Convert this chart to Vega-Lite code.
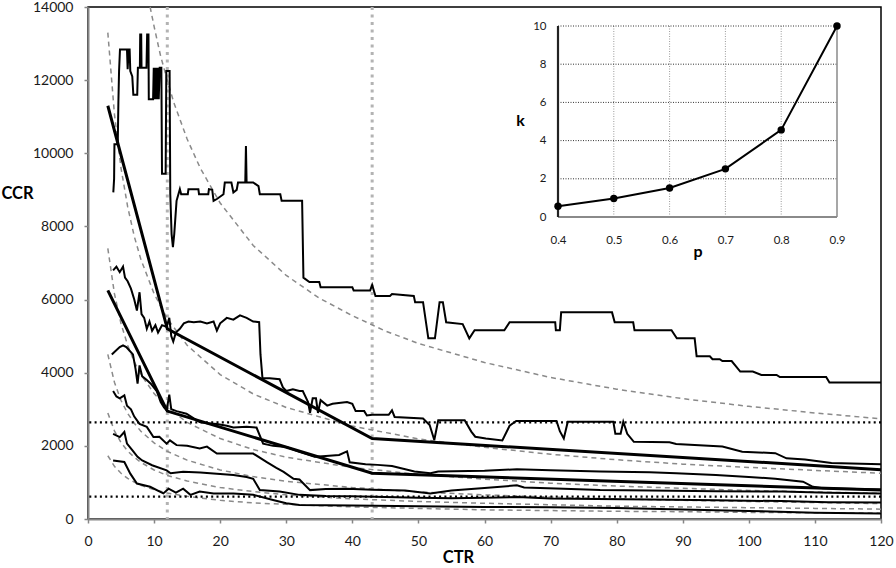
{
  "$schema": "https://vega.github.io/schema/vega-lite/v6.json",
  "width": 793,
  "height": 512,
  "autosize": {"type": "none"},
  "padding": {"left": 88, "top": 7, "right": 15, "bottom": 49},
  "background": "white",
  "config": {
    "font": "Lato",
    "view": {"stroke": "black", "strokeWidth": 1.5},
    "axis": {"labelFont": "Lato", "titleFont": "Lato", "labelColor": "#1a1a1a", "titleColor": "#000000", "grid": false}
  },
  "datasets": {
    "series": [
      {"s":"A","x":3.83,"y":8930},{"s":"A","x":3.95,"y":9300},{"s":"A","x":4.0,"y":10250},{"s":"A","x":4.5,"y":10250},{"s":"A","x":4.6,"y":11400},{"s":"A","x":4.7,"y":12250},{"s":"A","x":4.84,"y":12840},{"s":"A","x":5.9,"y":12840},{"s":"A","x":6.0,"y":12300},{"s":"A","x":6.15,"y":12840},{"s":"A","x":6.3,"y":12840},{"s":"A","x":6.4,"y":12250},{"s":"A","x":6.7,"y":12100},{"s":"A","x":6.86,"y":11600},{"s":"A","x":7.45,"y":11600},{"s":"A","x":7.55,"y":12340},{"s":"A","x":7.85,"y":12340},{"s":"A","x":7.9,"y":13250},{"s":"A","x":8.05,"y":13250},{"s":"A","x":8.1,"y":12340},{"s":"A","x":8.85,"y":12340},{"s":"A","x":8.95,"y":13250},{"s":"A","x":9.15,"y":13250},{"s":"A","x":9.2,"y":11480},{"s":"A","x":9.85,"y":11480},{"s":"A","x":9.95,"y":12340},{"s":"A","x":10.1,"y":11480},{"s":"A","x":10.25,"y":12340},{"s":"A","x":10.4,"y":11480},{"s":"A","x":10.55,"y":12340},{"s":"A","x":10.7,"y":11480},{"s":"A","x":10.85,"y":12340},{"s":"A","x":11.1,"y":12340},{"s":"A","x":11.2,"y":9440},{"s":"A","x":11.75,"y":9440},{"s":"A","x":11.85,"y":12250},{"s":"A","x":12.35,"y":12250},{"s":"A","x":12.45,"y":8880},{"s":"A","x":12.65,"y":7790},{"s":"A","x":12.85,"y":7430},{"s":"A","x":13.05,"y":7790},{"s":"A","x":13.4,"y":8700},{"s":"A","x":13.9,"y":9020},{"s":"A","x":14.1,"y":8880},{"s":"A","x":15.1,"y":8880},{"s":"A","x":15.2,"y":9020},{"s":"A","x":16.7,"y":9020},{"s":"A","x":16.8,"y":8880},{"s":"A","x":18.2,"y":8880},{"s":"A","x":18.3,"y":9020},{"s":"A","x":18.8,"y":9000},{"s":"A","x":19.0,"y":8700},{"s":"A","x":19.5,"y":8750},{"s":"A","x":20.5,"y":8880},{"s":"A","x":20.7,"y":9200},{"s":"A","x":21.7,"y":9200},{"s":"A","x":22.0,"y":8930},{"s":"A","x":22.5,"y":9000},{"s":"A","x":22.7,"y":9200},{"s":"A","x":23.8,"y":9200},{"s":"A","x":23.9,"y":10200},{"s":"A","x":24.0,"y":9200},{"s":"A","x":25.0,"y":9200},{"s":"A","x":25.8,"y":9100},{"s":"A","x":26.0,"y":8880},{"s":"A","x":29.1,"y":8880},{"s":"A","x":29.3,"y":8700},{"s":"A","x":32.4,"y":8700},{"s":"A","x":32.6,"y":6600},{"s":"A","x":33.5,"y":6480},{"s":"A","x":35.0,"y":6480},{"s":"A","x":35.2,"y":6340},{"s":"A","x":40.0,"y":6340},{"s":"A","x":40.2,"y":6250},{"s":"A","x":42.7,"y":6250},{"s":"A","x":43.0,"y":6400},{"s":"A","x":43.5,"y":6100},{"s":"A","x":45.7,"y":6100},{"s":"A","x":46.0,"y":6150},{"s":"A","x":49.3,"y":6100},{"s":"A","x":49.5,"y":5930},{"s":"A","x":50.7,"y":5930},{"s":"A","x":51.5,"y":4940},{"s":"A","x":52.5,"y":4940},{"s":"A","x":53.2,"y":5930},{"s":"A","x":53.7,"y":5930},{"s":"A","x":54.2,"y":5380},{"s":"A","x":56.7,"y":5330},{"s":"A","x":57.7,"y":4940},{"s":"A","x":58.5,"y":5160},{"s":"A","x":63.0,"y":5160},{"s":"A","x":63.8,"y":5380},{"s":"A","x":70.7,"y":5380},{"s":"A","x":70.8,"y":5160},{"s":"A","x":71.4,"y":5160},{"s":"A","x":71.6,"y":5650},{"s":"A","x":79.3,"y":5650},{"s":"A","x":79.7,"y":5380},{"s":"A","x":82.5,"y":5380},{"s":"A","x":82.7,"y":5160},{"s":"A","x":88.3,"y":5160},{"s":"A","x":89.1,"y":4940},{"s":"A","x":91.8,"y":4940},{"s":"A","x":92.1,"y":4450},{"s":"A","x":94.1,"y":4450},{"s":"A","x":94.5,"y":4370},{"s":"A","x":95.6,"y":4370},{"s":"A","x":96.0,"y":4320},{"s":"A","x":97.4,"y":4320},{"s":"A","x":98.7,"y":4030},{"s":"A","x":100.6,"y":4030},{"s":"A","x":101.9,"y":3940},{"s":"A","x":104.2,"y":3940},{"s":"A","x":104.7,"y":3880},{"s":"A","x":111.7,"y":3880},{"s":"A","x":112.2,"y":3730},{"s":"A","x":120,"y":3730},

      {"s":"B","x":3.8,"y":6800},{"s":"B","x":4.3,"y":6900},{"s":"B","x":4.8,"y":6750},{"s":"B","x":5.3,"y":6900},{"s":"B","x":5.6,"y":6600},{"s":"B","x":6.0,"y":6500},{"s":"B","x":6.5,"y":6300},{"s":"B","x":7.0,"y":6000},{"s":"B","x":7.4,"y":5700},{"s":"B","x":7.8,"y":6200},{"s":"B","x":8.1,"y":5600},{"s":"B","x":8.5,"y":5500},{"s":"B","x":8.9,"y":5200},{"s":"B","x":9.3,"y":5400},{"s":"B","x":9.7,"y":5150},{"s":"B","x":10.2,"y":5300},{"s":"B","x":10.6,"y":5100},{"s":"B","x":11.2,"y":5300},{"s":"B","x":11.9,"y":5250},{"s":"B","x":12.3,"y":5500},{"s":"B","x":12.6,"y":5000},{"s":"B","x":12.9,"y":4850},{"s":"B","x":13.3,"y":5100},{"s":"B","x":13.9,"y":5200},{"s":"B","x":14.5,"y":5350},{"s":"B","x":15.2,"y":5400},{"s":"B","x":16,"y":5380},{"s":"B","x":17,"y":5400},{"s":"B","x":18,"y":5350},{"s":"B","x":19,"y":5400},{"s":"B","x":19.5,"y":5150},{"s":"B","x":20,"y":5350},{"s":"B","x":21,"y":5500},{"s":"B","x":22,"y":5450},{"s":"B","x":23,"y":5570},{"s":"B","x":24,"y":5500},{"s":"B","x":25,"y":5400},{"s":"B","x":25.9,"y":5380},{"s":"B","x":26.1,"y":4500},{"s":"B","x":26.4,"y":3850},{"s":"B","x":27.5,"y":3850},{"s":"B","x":29,"y":3820},{"s":"B","x":29.5,"y":3600},{"s":"B","x":30,"y":3500},{"s":"B","x":31,"y":3550},{"s":"B","x":32,"y":3500},{"s":"B","x":32.5,"y":3500},{"s":"B","x":33.3,"y":3200},{"s":"B","x":33.6,"y":2900},{"s":"B","x":34,"y":3300},{"s":"B","x":34.5,"y":3300},{"s":"B","x":34.8,"y":2900},{"s":"B","x":35.2,"y":3250},{"s":"B","x":36.2,"y":3100},{"s":"B","x":37,"y":3150},{"s":"B","x":39.2,"y":3200},{"s":"B","x":40,"y":3150},{"s":"B","x":40.5,"y":2950},{"s":"B","x":41.8,"y":2950},{"s":"B","x":42.2,"y":2830},{"s":"B","x":43,"y":2850},{"s":"B","x":45.5,"y":2850},{"s":"B","x":46,"y":2970},{"s":"B","x":46.4,"y":2790},{"s":"B","x":50.7,"y":2750},{"s":"B","x":51.7,"y":2570},{"s":"B","x":52.4,"y":2160},{"s":"B","x":53,"y":2700},{"s":"B","x":57,"y":2700},{"s":"B","x":58,"y":2390},{"s":"B","x":58.6,"y":2250},{"s":"B","x":60.2,"y":2200},{"s":"B","x":62.7,"y":2150},{"s":"B","x":63.8,"y":2550},{"s":"B","x":64.8,"y":2680},{"s":"B","x":70.9,"y":2680},{"s":"B","x":71.4,"y":2400},{"s":"B","x":72,"y":2200},{"s":"B","x":72.6,"y":2660},{"s":"B","x":79.5,"y":2660},{"s":"B","x":79.8,"y":2330},{"s":"B","x":80.6,"y":2330},{"s":"B","x":81,"y":2660},{"s":"B","x":81.6,"y":2330},{"s":"B","x":82.6,"y":2110},{"s":"B","x":88,"y":2100},{"s":"B","x":89,"y":2050},{"s":"B","x":96,"y":1980},{"s":"B","x":99,"y":1840},{"s":"B","x":104,"y":1800},{"s":"B","x":105.7,"y":1660},{"s":"B","x":108.5,"y":1630},{"s":"B","x":112.5,"y":1530},{"s":"B","x":120,"y":1500},

      {"s":"C","x":3.6,"y":4500},{"s":"C","x":4.2,"y":4600},{"s":"C","x":4.8,"y":4700},{"s":"C","x":5.3,"y":4750},{"s":"C","x":5.8,"y":4700},{"s":"C","x":6.3,"y":4600},{"s":"C","x":6.8,"y":4500},{"s":"C","x":7.2,"y":4100},{"s":"C","x":7.5,"y":3700},{"s":"C","x":7.8,"y":4200},{"s":"C","x":8.2,"y":3900},{"s":"C","x":8.9,"y":3800},{"s":"C","x":9.5,"y":3700},{"s":"C","x":10.4,"y":3500},{"s":"C","x":11,"y":3200},{"s":"C","x":11.5,"y":3050},{"s":"C","x":11.9,"y":2970},{"s":"C","x":12.3,"y":3400},{"s":"C","x":12.6,"y":3000},{"s":"C","x":13.4,"y":2950},{"s":"C","x":14.9,"y":2880},{"s":"C","x":16,"y":2750},{"s":"C","x":16.9,"y":2650},{"s":"C","x":18,"y":2620},{"s":"C","x":19.5,"y":2600},{"s":"C","x":21,"y":2550},{"s":"C","x":22,"y":2500},{"s":"C","x":24,"y":2520},{"s":"C","x":25.5,"y":2500},{"s":"C","x":26.5,"y":2060},{"s":"C","x":28,"y":2000},{"s":"C","x":30,"y":1970},{"s":"C","x":32,"y":1840},{"s":"C","x":34.3,"y":1700},{"s":"C","x":36,"y":1720},{"s":"C","x":38,"y":1750},{"s":"C","x":39.2,"y":1850},{"s":"C","x":39.6,"y":1550},{"s":"C","x":42,"y":1500},{"s":"C","x":43.8,"y":1480},{"s":"C","x":46,"y":1450},{"s":"C","x":49.4,"y":1300},{"s":"C","x":51.8,"y":1250},{"s":"C","x":53,"y":1300},{"s":"C","x":60,"y":1320},{"s":"C","x":64.9,"y":1360},{"s":"C","x":70,"y":1330},{"s":"C","x":77.5,"y":1300},{"s":"C","x":85,"y":1280},{"s":"C","x":89,"y":1250},{"s":"C","x":95,"y":1200},{"s":"C","x":100,"y":1150},{"s":"C","x":104,"y":1100},{"s":"C","x":108.2,"y":1020},{"s":"C","x":109.7,"y":880},{"s":"C","x":111.2,"y":840},{"s":"C","x":120,"y":810},

      {"s":"D","x":3.8,"y":3500},{"s":"D","x":4.3,"y":3350},{"s":"D","x":4.8,"y":3300},{"s":"D","x":5.5,"y":3380},{"s":"D","x":5.9,"y":3100},{"s":"D","x":6.5,"y":3000},{"s":"D","x":7.0,"y":2800},{"s":"D","x":7.8,"y":2600},{"s":"D","x":8.9,"y":2520},{"s":"D","x":9.9,"y":2240},{"s":"D","x":10.8,"y":2250},{"s":"D","x":11.9,"y":2060},{"s":"D","x":12.4,"y":2150},{"s":"D","x":13.4,"y":2020},{"s":"D","x":15,"y":2000},{"s":"D","x":16.9,"y":1930},{"s":"D","x":18,"y":1980},{"s":"D","x":19.5,"y":1790},{"s":"D","x":22,"y":1790},{"s":"D","x":25,"y":1790},{"s":"D","x":27,"y":1560},{"s":"D","x":28.5,"y":1400},{"s":"D","x":29.6,"y":1290},{"s":"D","x":31.1,"y":1100},{"s":"D","x":32,"y":1080},{"s":"D","x":33.6,"y":790},{"s":"D","x":36,"y":820},{"s":"D","x":39.2,"y":830},{"s":"D","x":43,"y":800},{"s":"D","x":48,"y":780},{"s":"D","x":51.8,"y":700},{"s":"D","x":55,"y":780},{"s":"D","x":60,"y":850},{"s":"D","x":64.9,"y":920},{"s":"D","x":66,"y":860},{"s":"D","x":72,"y":830},{"s":"D","x":77.5,"y":790},{"s":"D","x":85,"y":780},{"s":"D","x":95,"y":760},{"s":"D","x":105,"y":750},{"s":"D","x":112,"y":720},{"s":"D","x":120,"y":700},

      {"s":"E","x":3.8,"y":2330},{"s":"E","x":4.8,"y":2240},{"s":"E","x":5.5,"y":2380},{"s":"E","x":5.9,"y":2060},{"s":"E","x":6.7,"y":1880},{"s":"E","x":7.5,"y":1700},{"s":"E","x":8.2,"y":1600},{"s":"E","x":9.7,"y":1470},{"s":"E","x":11.9,"y":1330},{"s":"E","x":12.5,"y":1250},{"s":"E","x":14.4,"y":1290},{"s":"E","x":17,"y":1270},{"s":"E","x":19.5,"y":1240},{"s":"E","x":22,"y":1200},{"s":"E","x":24,"y":1150},{"s":"E","x":25,"y":1100},{"s":"E","x":26,"y":790},{"s":"E","x":29,"y":750},{"s":"E","x":32,"y":660},{"s":"E","x":36,"y":630},{"s":"E","x":40,"y":620},{"s":"E","x":45,"y":600},{"s":"E","x":50,"y":580},{"s":"E","x":55,"y":570},{"s":"E","x":60,"y":580},{"s":"E","x":65,"y":600},{"s":"E","x":70,"y":560},{"s":"E","x":77,"y":550},{"s":"E","x":85,"y":530},{"s":"E","x":95,"y":510},{"s":"E","x":105,"y":490},{"s":"E","x":112,"y":460},{"s":"E","x":120,"y":450},

      {"s":"F","x":3.8,"y":1600},{"s":"F","x":5.5,"y":1560},{"s":"F","x":6.4,"y":1240},{"s":"F","x":7.4,"y":970},{"s":"F","x":9.4,"y":880},{"s":"F","x":11.4,"y":700},{"s":"F","x":12.2,"y":830},{"s":"F","x":13.3,"y":720},{"s":"F","x":14.4,"y":830},{"s":"F","x":15.5,"y":660},{"s":"F","x":16.9,"y":750},{"s":"F","x":19,"y":700},{"s":"F","x":22,"y":700},{"s":"F","x":25,"y":660},{"s":"F","x":28,"y":520},{"s":"F","x":30,"y":430},{"s":"F","x":32,"y":380},{"s":"F","x":40,"y":370},{"s":"F","x":50,"y":350},{"s":"F","x":60,"y":330},{"s":"F","x":70,"y":320},{"s":"F","x":80,"y":300},{"s":"F","x":90,"y":260},{"s":"F","x":100,"y":220},{"s":"F","x":110,"y":170},{"s":"F","x":120,"y":150}
    ],
    "fits": [
      {"s":"F1","x":3,"y":11300},{"s":"F1","x":12,"y":5200},{"s":"F1","x":43,"y":2200},{"s":"F1","x":120,"y":1350},
      {"s":"F2","x":3,"y":6250},{"s":"F2","x":12,"y":2950},{"s":"F2","x":43,"y":1250},{"s":"F2","x":120,"y":790}
    ],
    "curves": [
      {"c":"D1","x":9.4,"y":14000},{"c":"D1","x":10,"y":13470},{"c":"D1","x":11,"y":12650},{"c":"D1","x":12,"y":12000},{"c":"D1","x":13,"y":11380},{"c":"D1","x":15,"y":10390},{"c":"D1","x":17,"y":9590},{"c":"D1","x":20,"y":8640},{"c":"D1","x":25,"y":7480},{"c":"D1","x":30,"y":6660},{"c":"D1","x":35,"y":6040},{"c":"D1","x":40,"y":5560},{"c":"D1","x":45,"y":5140},{"c":"D1","x":50,"y":4800},{"c":"D1","x":60,"y":4280},{"c":"D1","x":70,"y":3870},{"c":"D1","x":80,"y":3550},{"c":"D1","x":90,"y":3290},{"c":"D1","x":100,"y":3080},{"c":"D1","x":110,"y":2900},{"c":"D1","x":120,"y":2740},

      {"c":"D2","x":3,"y":13300},{"c":"D2","x":4,"y":11070},{"c":"D2","x":5,"y":9590},{"c":"D2","x":6,"y":8540},{"c":"D2","x":7,"y":7730},{"c":"D2","x":8,"y":7100},{"c":"D2","x":10,"y":6160},{"c":"D2","x":12,"y":5480},{"c":"D2","x":15,"y":4750},{"c":"D2","x":20,"y":3950},{"c":"D2","x":25,"y":3420},{"c":"D2","x":30,"y":3050},{"c":"D2","x":40,"y":2540},{"c":"D2","x":50,"y":2190},{"c":"D2","x":60,"y":1960},{"c":"D2","x":70,"y":1770},{"c":"D2","x":80,"y":1620},{"c":"D2","x":90,"y":1500},{"c":"D2","x":100,"y":1410},{"c":"D2","x":110,"y":1330},{"c":"D2","x":120,"y":1250},

      {"c":"D3","x":3,"y":7400},{"c":"D3","x":4,"y":6160},{"c":"D3","x":5,"y":5340},{"c":"D3","x":6,"y":4750},{"c":"D3","x":7,"y":4300},{"c":"D3","x":8,"y":3950},{"c":"D3","x":10,"y":3430},{"c":"D3","x":12,"y":3050},{"c":"D3","x":15,"y":2640},{"c":"D3","x":20,"y":2200},{"c":"D3","x":25,"y":1900},{"c":"D3","x":30,"y":1690},{"c":"D3","x":40,"y":1410},{"c":"D3","x":50,"y":1220},{"c":"D3","x":60,"y":1090},{"c":"D3","x":70,"y":980},{"c":"D3","x":80,"y":900},{"c":"D3","x":90,"y":840},{"c":"D3","x":100,"y":780},{"c":"D3","x":110,"y":740},{"c":"D3","x":120,"y":700},

      {"c":"D4","x":3,"y":4500},{"c":"D4","x":4,"y":3740},{"c":"D4","x":5,"y":3240},{"c":"D4","x":6,"y":2890},{"c":"D4","x":7,"y":2620},{"c":"D4","x":8,"y":2400},{"c":"D4","x":10,"y":2080},{"c":"D4","x":12,"y":1850},{"c":"D4","x":15,"y":1610},{"c":"D4","x":20,"y":1340},{"c":"D4","x":25,"y":1160},{"c":"D4","x":30,"y":1030},{"c":"D4","x":40,"y":860},{"c":"D4","x":50,"y":740},{"c":"D4","x":60,"y":660},{"c":"D4","x":70,"y":600},{"c":"D4","x":80,"y":550},{"c":"D4","x":90,"y":510},{"c":"D4","x":100,"y":480},{"c":"D4","x":110,"y":450},{"c":"D4","x":120,"y":420},

      {"c":"D5","x":3,"y":2900},{"c":"D5","x":4,"y":2410},{"c":"D5","x":5,"y":2090},{"c":"D5","x":6,"y":1860},{"c":"D5","x":7,"y":1690},{"c":"D5","x":8,"y":1550},{"c":"D5","x":10,"y":1340},{"c":"D5","x":12,"y":1190},{"c":"D5","x":15,"y":1040},{"c":"D5","x":20,"y":860},{"c":"D5","x":25,"y":750},{"c":"D5","x":30,"y":660},{"c":"D5","x":40,"y":550},{"c":"D5","x":50,"y":480},{"c":"D5","x":60,"y":430},{"c":"D5","x":70,"y":390},{"c":"D5","x":80,"y":350},{"c":"D5","x":90,"y":330},{"c":"D5","x":100,"y":310},{"c":"D5","x":110,"y":290},{"c":"D5","x":120,"y":270},

      {"c":"D6","x":3,"y":1730},{"c":"D6","x":4,"y":1440},{"c":"D6","x":5,"y":1250},{"c":"D6","x":6,"y":1110},{"c":"D6","x":7,"y":1010},{"c":"D6","x":8,"y":920},{"c":"D6","x":10,"y":800},{"c":"D6","x":12,"y":710},{"c":"D6","x":15,"y":620},{"c":"D6","x":20,"y":510},{"c":"D6","x":25,"y":440},{"c":"D6","x":30,"y":400},{"c":"D6","x":40,"y":330},{"c":"D6","x":50,"y":290},{"c":"D6","x":60,"y":250},{"c":"D6","x":70,"y":230},{"c":"D6","x":80,"y":210},{"c":"D6","x":90,"y":200},{"c":"D6","x":100,"y":180},{"c":"D6","x":110,"y":170},{"c":"D6","x":120,"y":160}
    ],
    "vlines": [{"x": 12}, {"x": 43}],
    "hlines": [{"y": 2640}, {"y": 610}],
    "inset": [
      {"p":0.4,"k":0.56},{"p":0.5,"k":0.97},{"p":0.6,"k":1.52},{"p":0.7,"k":2.52},{"p":0.8,"k":4.56},{"p":0.9,"k":10}
    ],
    "ihgrid": [
      {"p":0.4,"p2":0.9,"k":2},{"p":0.4,"p2":0.9,"k":4},{"p":0.4,"p2":0.9,"k":6},{"p":0.4,"p2":0.9,"k":8},{"p":0.4,"p2":0.9,"k":10}
    ],
    "ivgrid": [
      {"p":0.5,"k":0,"k2":10},{"p":0.6,"k":0,"k2":10},{"p":0.7,"k":0,"k2":10},{"p":0.8,"k":0,"k2":10}
    ],
    "ileft": [{"p":0.4,"k":0,"k2":10}],
    "iright": [{"p":0.9,"k":0,"k2":10}],
    "ibottom": [{"p":0.4,"p2":0.9,"k":0}]
  },
  "layer": [
    {
      "layer": [
        {
          "data": {"name": "vlines"},
          "mark": {"type": "rule", "color": "#b3b3b3", "strokeWidth": 3, "strokeDash": [3, 4.5]},
          "encoding": {
            "x": {"field": "x", "type": "quantitative", "scale": {"domain": [0, 120], "nice": false}}
          }
        },
        {
          "data": {"name": "curves"},
          "mark": {"type": "line", "color": "#8a8a8a", "strokeWidth": 1.5, "strokeDash": [5, 4]},
          "encoding": {
            "x": {"field": "x", "type": "quantitative", "scale": {"domain": [0, 120], "nice": false}},
            "y": {"field": "y", "type": "quantitative", "scale": {"domain": [0, 14000], "nice": false}},
            "detail": {"field": "c"}
          }
        },
        {
          "data": {"name": "series"},
          "mark": {"type": "line", "color": "#000000", "strokeWidth": 2},
          "encoding": {
            "x": {
              "field": "x", "type": "quantitative",
              "scale": {"domain": [0, 120], "nice": false},
              "axis": {
                "orient": "bottom",
                "values": [0,5,10,15,20,25,30,35,40,45,50,55,60,65,70,75,80,85,90,95,100,105,110,115,120],
                "labelExpr": "datum.value % 10 === 0 ? datum.label : ''",
                "labelFlush": false, "labelOverlap": false, "labelBound": false,
                "labelFontSize": 14, "labelPadding": 11, "labelBaseline": "top",
                "tickSize": 4, "tickColor": "#868686", "tickWidth": 1.5,
                "domainColor": "#868686", "domainWidth": 2,
                "title": "CTR", "titleFontSize": 16.5, "titleFontWeight": "bold",
                "titleX": 370, "titleY": 38, "titleBaseline": "middle", "titleAlign": "center"
              }
            },
            "y": {
              "field": "y", "type": "quantitative",
              "scale": {"domain": [0, 14000], "nice": false},
              "axis": {
                "orient": "left",
                "values": [0,500,1000,1500,2000,2500,3000,3500,4000,4500,5000,5500,6000,6500,7000,7500,8000,8500,9000,9500,10000,10500,11000,11500,12000,12500,13000,13500,14000],
                "format": "d",
                "labelExpr": "datum.value % 2000 === 0 ? datum.label : ''",
                "labelFlush": false, "labelOverlap": false, "labelBound": false,
                "labelFontSize": 14, "labelPadding": 11,
                "tickSize": 4, "tickColor": "#868686", "tickWidth": 1.5,
                "domainColor": "#868686", "domainWidth": 2,
                "title": "CCR", "titleFontSize": 16.5, "titleFontWeight": "bold", "titleAngle": 0,
                "titleX": -71, "titleY": 186, "titleBaseline": "middle", "titleAlign": "center"
              }
            },
            "detail": {"field": "s"}
          }
        },
        {
          "data": {"name": "fits"},
          "mark": {"type": "line", "color": "#000000", "strokeWidth": 3},
          "encoding": {
            "x": {"field": "x", "type": "quantitative", "scale": {"domain": [0, 120], "nice": false}},
            "y": {"field": "y", "type": "quantitative", "scale": {"domain": [0, 14000], "nice": false}},
            "detail": {"field": "s"}
          }
        },
        {
          "data": {"name": "hlines"},
          "mark": {"type": "rule", "color": "#000000", "strokeWidth": 2.2, "strokeDash": [2, 3.3]},
          "encoding": {
            "y": {"field": "y", "type": "quantitative", "scale": {"domain": [0, 14000], "nice": false}}
          }
        }
      ]
    },
    {
      "layer": [
        {
          "data": {"name": "ivgrid"},
          "mark": {"type": "rule", "color": "#9a9a9a", "strokeWidth": 1, "strokeDash": [1, 1.5]},
          "encoding": {
            "x": {
              "field": "p", "type": "quantitative",
              "scale": {"domain": [0.4, 0.9], "range": [470, 749], "nice": false, "zero": false},
              "axis": {
                "orient": "bottom", "offset": -301,
                "values": [0.4, 0.5, 0.6, 0.7, 0.8, 0.9], "format": ".1f",
                "domain": false, "ticks": false, "tickSize": 0,
                "labelFlush": false, "labelOverlap": false, "labelBound": false,
                "labelFontSize": 11.5, "labelPadding": 16, "labelBaseline": "top",
                "title": "p", "titleFontSize": 16, "titleFontWeight": "bold",
                "titleY": 38, "titleBaseline": "alphabetic", "titleAlign": "center"
              }
            },
            "y": {
              "field": "k", "type": "quantitative",
              "scale": {"domain": [0, 10], "range": [210, 19], "nice": false},
              "axis": {
                "orient": "left", "offset": -470,
                "values": [0, 2, 4, 6, 8, 10],
                "domain": false, "ticks": false, "tickSize": 0,
                "labelFlush": false, "labelOverlap": false, "labelBound": false,
                "labelFontSize": 11.5, "labelPadding": 12,
                "title": "k", "titleFontSize": 16, "titleFontWeight": "bold", "titleAngle": 0,
                "titleX": -38, "titleY": 113, "titleBaseline": "middle", "titleAlign": "center"
              }
            },
            "y2": {"field": "k2"}
          }
        },
        {
          "data": {"name": "ihgrid"},
          "mark": {"type": "rule", "color": "#333333", "strokeWidth": 1, "strokeDash": [1, 1.5]},
          "encoding": {
            "x": {"field": "p", "type": "quantitative"},
            "x2": {"field": "p2"},
            "y": {"field": "k", "type": "quantitative"}
          }
        },
        {
          "data": {"name": "ibottom"},
          "mark": {"type": "rule", "color": "#8a8a8a", "strokeWidth": 2},
          "encoding": {
            "x": {"field": "p", "type": "quantitative"},
            "x2": {"field": "p2"},
            "y": {"field": "k", "type": "quantitative"}
          }
        },
        {
          "data": {"name": "iright"},
          "mark": {"type": "rule", "color": "#8a8a8a", "strokeWidth": 1.5},
          "encoding": {
            "x": {"field": "p", "type": "quantitative"},
            "y": {"field": "k", "type": "quantitative"},
            "y2": {"field": "k2"}
          }
        },
        {
          "data": {"name": "ileft"},
          "mark": {"type": "rule", "color": "#222222", "strokeWidth": 2.2},
          "encoding": {
            "x": {"field": "p", "type": "quantitative"},
            "y": {"field": "k", "type": "quantitative"},
            "y2": {"field": "k2"}
          }
        },
        {
          "data": {"name": "inset"},
          "mark": {"type": "line", "color": "#000000", "strokeWidth": 2, "point": {"filled": true, "color": "#000000", "size": 55}},
          "encoding": {
            "x": {"field": "p", "type": "quantitative"},
            "y": {"field": "k", "type": "quantitative"}
          }
        }
      ]
    }
  ],
  "resolve": {"scale": {"x": "independent", "y": "independent"}, "axis": {"x": "independent", "y": "independent"}}
}
